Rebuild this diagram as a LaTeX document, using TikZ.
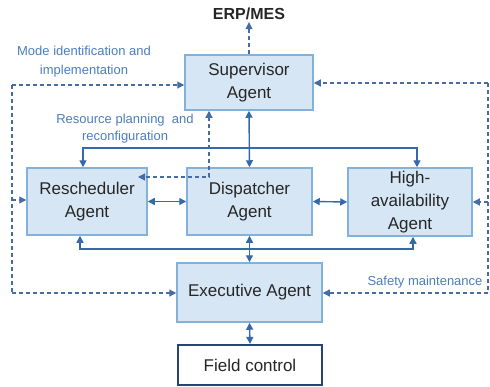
\documentclass[tikz,border=0pt]{standalone}
\usepackage{fontspec}
\setmainfont{Liberation Sans}
\usetikzlibrary{arrows.meta,calc}
\definecolor{boxfill}{RGB}{214,230,244}
\definecolor{boxline}{RGB}{130,178,220}
\definecolor{conn}{RGB}{52,105,170}
\definecolor{dash}{RGB}{70,108,165}
\definecolor{lbl}{RGB}{75,125,190}
\definecolor{navy}{RGB}{40,68,118}
\tikzset{
  tip/.tip={Triangle[length=7pt,width=7pt]},
  agent/.style={draw=boxline,fill=boxfill,line width=1.5pt,align=center,inner sep=0pt,
    font=\fontsize{17}{23}\selectfont,text=black!85},
  arr/.style={draw=conn,line width=1.4pt,-tip},
  barr/.style={draw=conn,line width=1.4pt,tip-tip},
  bus/.style={draw=conn,line width=1.4pt},
  darr/.style={draw=dash,line width=1.2pt,dash pattern=on 4pt off 3pt,-tip},
  dbarr/.style={draw=dash,line width=1.2pt,dash pattern=on 4pt off 3pt,tip-tip},
  dline/.style={draw=dash,line width=1.2pt,dash pattern=on 4pt off 3pt},
  lab/.style={text=lbl,font=\fontsize{13}{18}\selectfont,align=center,inner sep=0pt}
}
\begin{document}
\begin{tikzpicture}[x=1pt,y=-1pt]
\useasboundingbox (0,0) rectangle (490,386);
% nodes
\node[agent,minimum width=128pt,minimum height=55pt] (sup) at (249,82.5) {Supervisor\\Agent};
\node[agent,minimum width=120pt,minimum height=67pt] (res) at (87,201.5) {Rescheduler\\Agent};
\node[agent,minimum width=125pt,minimum height=67pt] (dis) at (249.5,201.5) {Dispatcher\\Agent};
\node[agent,minimum width=124pt,minimum height=68pt] (ha) at (410,202) {High-\\availability\\Agent};
\node[agent,minimum width=145pt,minimum height=59pt] (exe) at (249.5,292.5) {Executive Agent};
\node[draw=navy,line width=2.2pt,fill=white,minimum width=144pt,minimum height=40pt,inner sep=0pt,
  font=\fontsize{17}{23}\selectfont,text=black!85] (fc) at (250,365) {Field control};
\node[font=\bfseries\fontsize{16}{20}\selectfont,text=black!85,inner sep=2pt] (erp) at (249,14) {ERP/MES};
% labels
\node[lab,font=\fontsize{13}{19}\selectfont] (lmode) at (84,62) {Mode identification and\\implementation};
\node[lab,font=\fontsize{13}{17}\selectfont] (lres) at (125,128.5) {Resource planning\ \ and\\reconfiguration};
\node[lab] (lsafe) at (425,282) {Safety maintenance};
% coordinates
\coordinate (L1) at (12,85);
\coordinate (L2) at (12,200);
\coordinate (L3) at (12,293);
\coordinate (R1) at (488,83);
\coordinate (R2) at (488,202);
\coordinate (R3) at (488,293);
\coordinate (RP1) at (209,177);
\coordinate (RP2) at (138,177);
\coordinate (TB) at (249,148);
\coordinate (BB) at (249,249);
% ERP
\draw[darr] (sup.north) -- (erp.south);
% left dashed bus
\draw[dline] (L1) -- (L3);
\draw[darr] (L1) -- (L1 -| sup.west);
\draw[darr] (L2) -- (L2 -| res.west);
\draw[darr] (L3) -- (L3 -| exe.west);
% right dashed bus
\draw[dline] (R1) -- (R3);
\draw[darr] (R1) -- (R1 -| sup.east);
\draw[darr] (R2) -- (R2 -| ha.east);
\draw[darr] (R3) -- (R3 -| exe.east);
% resource planning
\draw[dbarr] (RP1 |- sup.south) -- (RP1) -- (RP2);
% solid connectors
\draw[barr] (sup.south) -- (dis.north);
\draw[arr] (TB) -| ([xshift=-4pt]res.north);
\draw[arr] (TB) -| ([xshift=7pt]ha.north);
\draw[barr] (res.east) -- (dis.west);
\draw[barr] (dis.east) -- (ha.west);
\draw[barr] (dis.south) -- (exe.north);
\draw[arr] (BB) -| ([xshift=-7pt]res.south);
\draw[arr] (BB) -| ([xshift=3pt]ha.south);
\draw[barr] (exe.south) -- (fc.north);
\end{tikzpicture}
\end{document}
